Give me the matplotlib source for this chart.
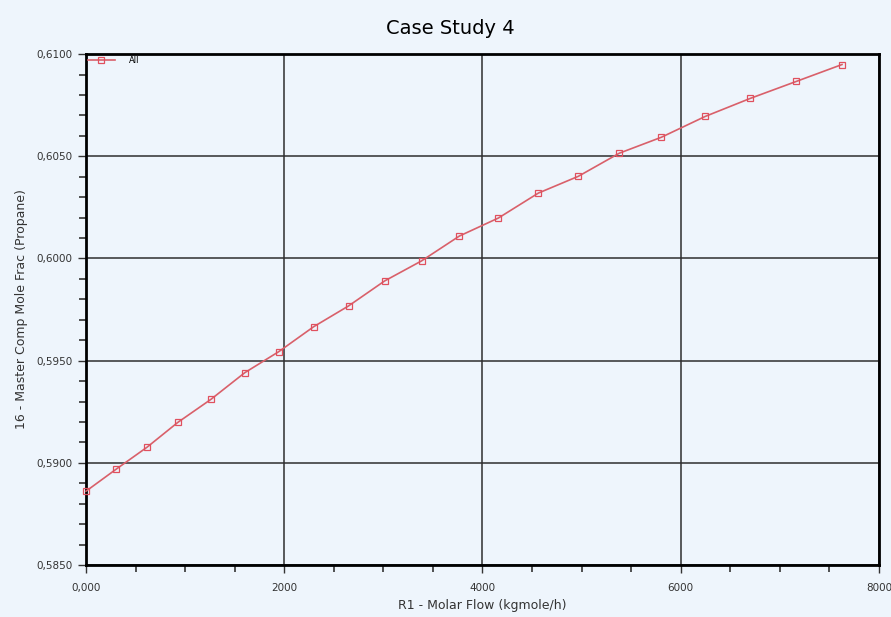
import numpy as np
import matplotlib
matplotlib.use('Agg')
import matplotlib.pyplot as plt
from matplotlib.ticker import MultipleLocator, FuncFormatter

# R1 molar flow vs propane mole fraction in stream 16
molar_flow = [0, 302, 615, 927, 1259, 1602, 1945, 2297, 2650, 3013, 3385,
              3768, 4161, 4564, 4967, 5380, 5804, 6247, 6700, 7164, 7627]
mole_frac = [0.58861, 0.58968, 0.59076, 0.59198, 0.59310, 0.59441, 0.59544,
             0.59666, 0.59768, 0.59890, 0.59988, 0.60110, 0.60198, 0.60320,
             0.60402, 0.60515, 0.60593, 0.60695, 0.60783, 0.60866, 0.60949]

bg = '#eef5fc'
fig = plt.figure(figsize=(8.91, 6.17), dpi=100, facecolor=bg)
ax = fig.add_axes([0.0965, 0.0843, 0.890, 0.828], facecolor=bg)

ax.plot(molar_flow, mole_frac, color='#d9606a', lw=1.2, marker='s', ms=5,
        mfc='none', mec='#e0505e', mew=0.9, label='All', clip_on=False, zorder=3)

ax.set_xlim(0, 8000)
ax.set_ylim(0.5850, 0.6100)
ax.xaxis.set_major_locator(MultipleLocator(2000))
ax.xaxis.set_minor_locator(MultipleLocator(500))
ax.yaxis.set_major_locator(MultipleLocator(0.005))
ax.yaxis.set_minor_locator(MultipleLocator(0.001))

ax.xaxis.set_major_formatter(FuncFormatter(lambda v, p: '0,000' if v == 0 else f'{v:.0f}'))
ax.yaxis.set_major_formatter(FuncFormatter(lambda v, p: f'{v:.4f}'.replace('.', ',')))

ax.grid(True, which='major', color='#2e2e2e', lw=1.1)
for s in ax.spines.values():
    s.set_color('black')
    s.set_linewidth(2)
ax.tick_params(which='both', direction='out', color='#333333', labelsize=7.5,
               labelcolor='#333333')
ax.tick_params(which='major', length=6, width=1)
ax.tick_params(which='minor', length=5, width=1.2)
ax.tick_params(axis='x', pad=7)

fig.suptitle('Case Study 4', fontsize=14, color='black', x=0.505, y=0.97)
ax.set_xlabel('R1 - Molar Flow (kgmole/h)', fontsize=9, color='#333333', labelpad=4)
ax.set_ylabel('16 - Master Comp Mole Frac (Propane)', fontsize=9, color='#333333', labelpad=6)

leg = ax.legend(loc='upper left', fontsize=6, frameon=False, handlelength=3.3,
                borderaxespad=0.0, borderpad=0.2, handletextpad=1.6)

fig.savefig('out.png', dpi=100, facecolor=bg)
